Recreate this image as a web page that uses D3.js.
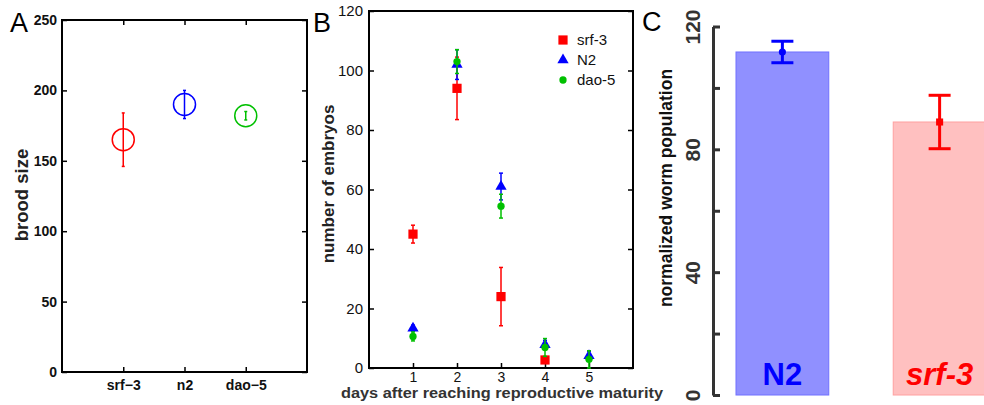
<!DOCTYPE html>
<html>
<head>
<meta charset="utf-8">
<script src="https://cdn.jsdelivr.net/npm/d3@7"></script>
<style>
  body { margin: 0; background: #fff; }
  svg { display: block; font-family: "Liberation Sans", Arial, sans-serif; }
</style>
</head>
<body>
<svg width="984" height="405"></svg>
<script>
// panel A: brood size per strain
var broodStrains = ['srf\u22123', 'n2', 'dao\u22125'];
var broodMean = [165, 190, 182];
var broodErr = [19, 10, 3];
var broodColors = ['#ff0000', '#0000ff', '#00c000'];
var broodTicks = [0, 50, 100, 150, 200, 250];

// panel B: embryos per day
var days = [1, 2, 3, 4, 5];
var srf3Embryos = [45, 94, 24, 2.7, null];
var srf3Err = [3, 10.5, 9.8, 0.5, null];
var n2Embryos = [13.4, 102, 61, 7.8, 4.1];
var n2Err = [1, 5, 4.5, 1.5, 1.5];
var dao5Embryos = [10.6, 103, 54.4, 6.9, 2.9];
var dao5Err = [1.5, 4, 4, 3, 2.9];
var embryoTicks = [0, 20, 40, 60, 80, 100, 120];

// panel C: normalized worm population
var popStrains = ['N2', 'srf-3'];
var popMean = [111.7, 88.9];
var popErr = [3.5, 8.7];
var popTicks = [0, 20, 40, 60, 80, 100, 120];

var svg = d3.select('svg');

// ---------- A ----------
var xa = d3.scaleLinear().domain([0, 4]).range([62, 307]);
var ya = d3.scaleLinear().domain([0, 250]).range([372, 20]);
var gA = svg.append('g');

gA.append('g')
  .attr('transform', 'translate(62,0)')
  .call(d3.axisLeft(ya).tickValues(broodTicks).tickSizeInner(-5).tickSizeOuter(0).tickPadding(5))
  .call(styleAxis, true);
gA.append('g')
  .attr('transform', 'translate(307,0)')
  .call(d3.axisRight(ya).tickValues(broodTicks).tickSizeInner(-5).tickSizeOuter(0).tickFormat(''))
  .call(styleAxis, true);
gA.append('g')
  .attr('transform', 'translate(0,372)')
  .call(d3.axisBottom(xa).tickValues([1, 2, 3]).tickSizeInner(-5).tickSizeOuter(0).tickPadding(8)
    .tickFormat(function(d) { return broodStrains[d - 1]; }))
  .call(styleAxis, true);
gA.append('g')
  .attr('transform', 'translate(0,20)')
  .call(d3.axisTop(xa).tickValues([1, 2, 3]).tickSizeInner(-5).tickSizeOuter(0).tickFormat(''))
  .call(styleAxis, true);
gA.append('rect').attr('x', 62).attr('y', 20).attr('width', 245).attr('height', 352)
  .attr('fill', 'none').attr('stroke', '#000').attr('stroke-width', 2);

broodMean.forEach(function(m, i) {
  var cx = xa(i + 1), c = broodColors[i];
  gA.append('line').attr('x1', cx).attr('x2', cx)
    .attr('y1', ya(m - broodErr[i])).attr('y2', ya(m + broodErr[i]))
    .attr('stroke', c).attr('stroke-width', 1.5);
  [m - broodErr[i], m + broodErr[i]].forEach(function(v) {
    gA.append('line').attr('x1', cx - 1.5).attr('x2', cx + 1.5).attr('y1', ya(v)).attr('y2', ya(v))
      .attr('stroke', c).attr('stroke-width', 1.5);
  });
  gA.append('circle').attr('cx', cx).attr('cy', ya(m)).attr('r', 11)
    .attr('fill', 'none').attr('stroke', c).attr('stroke-width', 1.5);
});

gA.append('text').attr('x', 10).attr('y', 32).attr('font-size', 27).text('A');
gA.append('text').attr('transform', 'translate(28,195) rotate(-90)')
  .attr('text-anchor', 'middle').attr('font-size', 18.5).attr('font-weight', 'bold')
  .attr('fill', '#222').text('brood size');

// ---------- B ----------
var xb = d3.scaleLinear().domain([0, 6]).range([369, 633]);
var yb = d3.scaleLinear().domain([0, 120]).range([368, 11]);
var gB = svg.append('g');

gB.append('g')
  .attr('transform', 'translate(369,0)')
  .call(d3.axisLeft(yb).tickValues(embryoTicks).tickSizeInner(-5).tickSizeOuter(0).tickPadding(6))
  .call(styleAxis, false);
gB.append('g')
  .attr('transform', 'translate(633,0)')
  .call(d3.axisRight(yb).tickValues(embryoTicks).tickSizeInner(-5).tickSizeOuter(0).tickFormat(''))
  .call(styleAxis, false);
gB.append('g')
  .attr('transform', 'translate(0,368)')
  .call(d3.axisBottom(xb).tickValues(days).tickSizeInner(-5).tickSizeOuter(0).tickPadding(4).tickFormat(d3.format('d')))
  .call(styleAxis, false)
  .selectAll('.tick text').attr('font-size', 14);
gB.append('rect').attr('x', 369).attr('y', 11).attr('width', 264).attr('height', 357)
  .attr('fill', 'none').attr('stroke', '#000').attr('stroke-width', 2);

var series = [
  { name: 'srf-3', vals: srf3Embryos, err: srf3Err, color: '#ff0000', sym: d3.symbolSquare, size: 85 },
  { name: 'N2', vals: n2Embryos, err: n2Err, color: '#0000ff', sym: d3.symbolTriangle, size: 55 },
  { name: 'dao-5', vals: dao5Embryos, err: dao5Err, color: '#00c000', sym: d3.symbolCircle, size: 42 }
];

series.forEach(function(s) {
  var pts = days.map(function(d, i) { return { day: d, v: s.vals[i], e: s.err[i] }; })
    .filter(function(p) { return p.v != null; });
  var g = gB.append('g');
  pts.forEach(function(p) {
    var cx = xb(p.day);
    var lo = Math.max(0, p.v - p.e), hi = p.v + p.e;
    g.append('line').attr('x1', cx).attr('x2', cx).attr('y1', yb(lo)).attr('y2', yb(hi))
      .attr('stroke', s.color).attr('stroke-width', 1.5);
    [lo, hi].forEach(function(v) {
      g.append('line').attr('x1', cx - 2).attr('x2', cx + 2).attr('y1', yb(v)).attr('y2', yb(v))
        .attr('stroke', s.color).attr('stroke-width', 1.5);
    });
  });
  g.selectAll('path.pt').data(pts).enter().append('path')
    .attr('class', 'pt')
    .attr('transform', function(p) { return 'translate(' + xb(p.day) + ',' + yb(p.v) + ')'; })
    .attr('d', d3.symbol().type(s.sym).size(s.size))
    .attr('fill', s.color);
});

// legend
series.forEach(function(s, i) {
  var ly = 40 + i * 20;
  gB.append('path').attr('transform', 'translate(563,' + ly + ')')
    .attr('d', d3.symbol().type(s.sym).size(s.size)).attr('fill', s.color);
  gB.append('text').attr('x', 577).attr('y', ly + 5).attr('font-size', 15).attr('fill', '#111').text(s.name);
});

gB.append('text').attr('x', 313).attr('y', 32).attr('font-size', 27).text('B');
gB.append('text').attr('transform', 'translate(334,184) rotate(-90)')
  .attr('text-anchor', 'middle').attr('font-size', 17).attr('font-weight', 'bold')
  .attr('fill', '#222').text('number of embryos');
gB.append('text').attr('x', 502).attr('y', 398)
  .attr('text-anchor', 'middle').attr('font-size', 14.5).attr('font-weight', 'bold')
  .attr('textLength', 322).attr('lengthAdjust', 'spacingAndGlyphs')
  .attr('fill', '#333').text('days after reaching reproductive maturity');

// ---------- C ----------
var xc = d3.scaleBand().domain(popStrains).range([736, 986]).paddingInner(0.41).paddingOuter(0);
var yc = d3.scaleLinear().domain([0, 120]).range([395, 26.5]);
var gC = svg.append('g');
var barFill = ['#9090ff', '#ffc0c0'];
var barStroke = ['#7070ff', '#ffa0a0'];
var popColor = ['#0000ff', '#ff0000'];

gC.selectAll('rect.bar').data(popStrains).enter().append('rect')
  .attr('class', 'bar')
  .attr('x', function(d) { return xc(d); })
  .attr('y', function(d, i) { return yc(popMean[i]); })
  .attr('width', xc.bandwidth())
  .attr('height', function(d, i) { return yc(0) - yc(popMean[i]); })
  .attr('fill', function(d, i) { return barFill[i]; })
  .attr('stroke', function(d, i) { return barStroke[i]; })
  .attr('stroke-width', 1);

popStrains.forEach(function(s, i) {
  var cx = xc(s) + xc.bandwidth() / 2, c = popColor[i];
  var lo = popMean[i] - popErr[i], hi = popMean[i] + popErr[i];
  gC.append('line').attr('x1', cx).attr('x2', cx).attr('y1', yc(lo)).attr('y2', yc(hi))
    .attr('stroke', c).attr('stroke-width', 3);
  [lo, hi].forEach(function(v) {
    gC.append('line').attr('x1', cx - 11).attr('x2', cx + 11).attr('y1', yc(v)).attr('y2', yc(v))
      .attr('stroke', c).attr('stroke-width', 3);
  });
  gC.append('path').attr('transform', 'translate(' + cx + ',' + yc(popMean[i]) + ')')
    .attr('d', d3.symbol().type(i === 0 ? d3.symbolCircle : d3.symbolSquare).size(i === 0 ? 40 : 50))
    .attr('fill', c);
  gC.append('text').attr('x', cx).attr('y', 385)
    .attr('text-anchor', 'middle').attr('font-size', 31).attr('font-weight', 'bold')
    .attr('font-style', i === 1 ? 'italic' : 'normal')
    .attr('fill', c).text(s);
});

var axC = gC.append('g')
  .attr('transform', 'translate(713,0)')
  .call(d3.axisLeft(yc).tickValues(popTicks).tickSizeInner(-7).tickSizeOuter(0)
    .tickFormat(function(d) { return d % 40 === 0 ? d : ''; }));
axC.select('.domain').attr('stroke', '#333').attr('stroke-width', 3);
axC.selectAll('.tick line').attr('stroke', '#333').attr('stroke-width', 3);
axC.selectAll('.tick text')
  .attr('x', 0).attr('y', -13).attr('dy', 0)
  .attr('transform', 'rotate(-90)')
  .attr('text-anchor', 'middle')
  .style('font-family', '"Liberation Sans", Arial, sans-serif')
  .style('font-size', '21px').style('font-weight', 'bold').attr('fill', '#333');

gC.append('text').attr('x', 642).attr('y', 31).attr('font-size', 27).text('C');
gC.append('text').attr('transform', 'translate(672,188) rotate(-90)')
  .attr('text-anchor', 'middle').attr('font-size', 17.5).attr('font-weight', 'bold')
  .attr('fill', '#111').text('normalized worm population');

function styleAxis(g, bold) {
  g.select('.domain').remove();
  g.selectAll('.tick line').attr('stroke', '#000').attr('stroke-width', 1.5);
  g.selectAll('.tick text')
    .attr('font-family', '"Liberation Sans", Arial, sans-serif')
    .attr('font-size', bold ? 14 : 15)
    .attr('font-weight', bold ? 'bold' : 'normal')
    .attr('fill', '#111');
}
</script>
</body>
</html>
